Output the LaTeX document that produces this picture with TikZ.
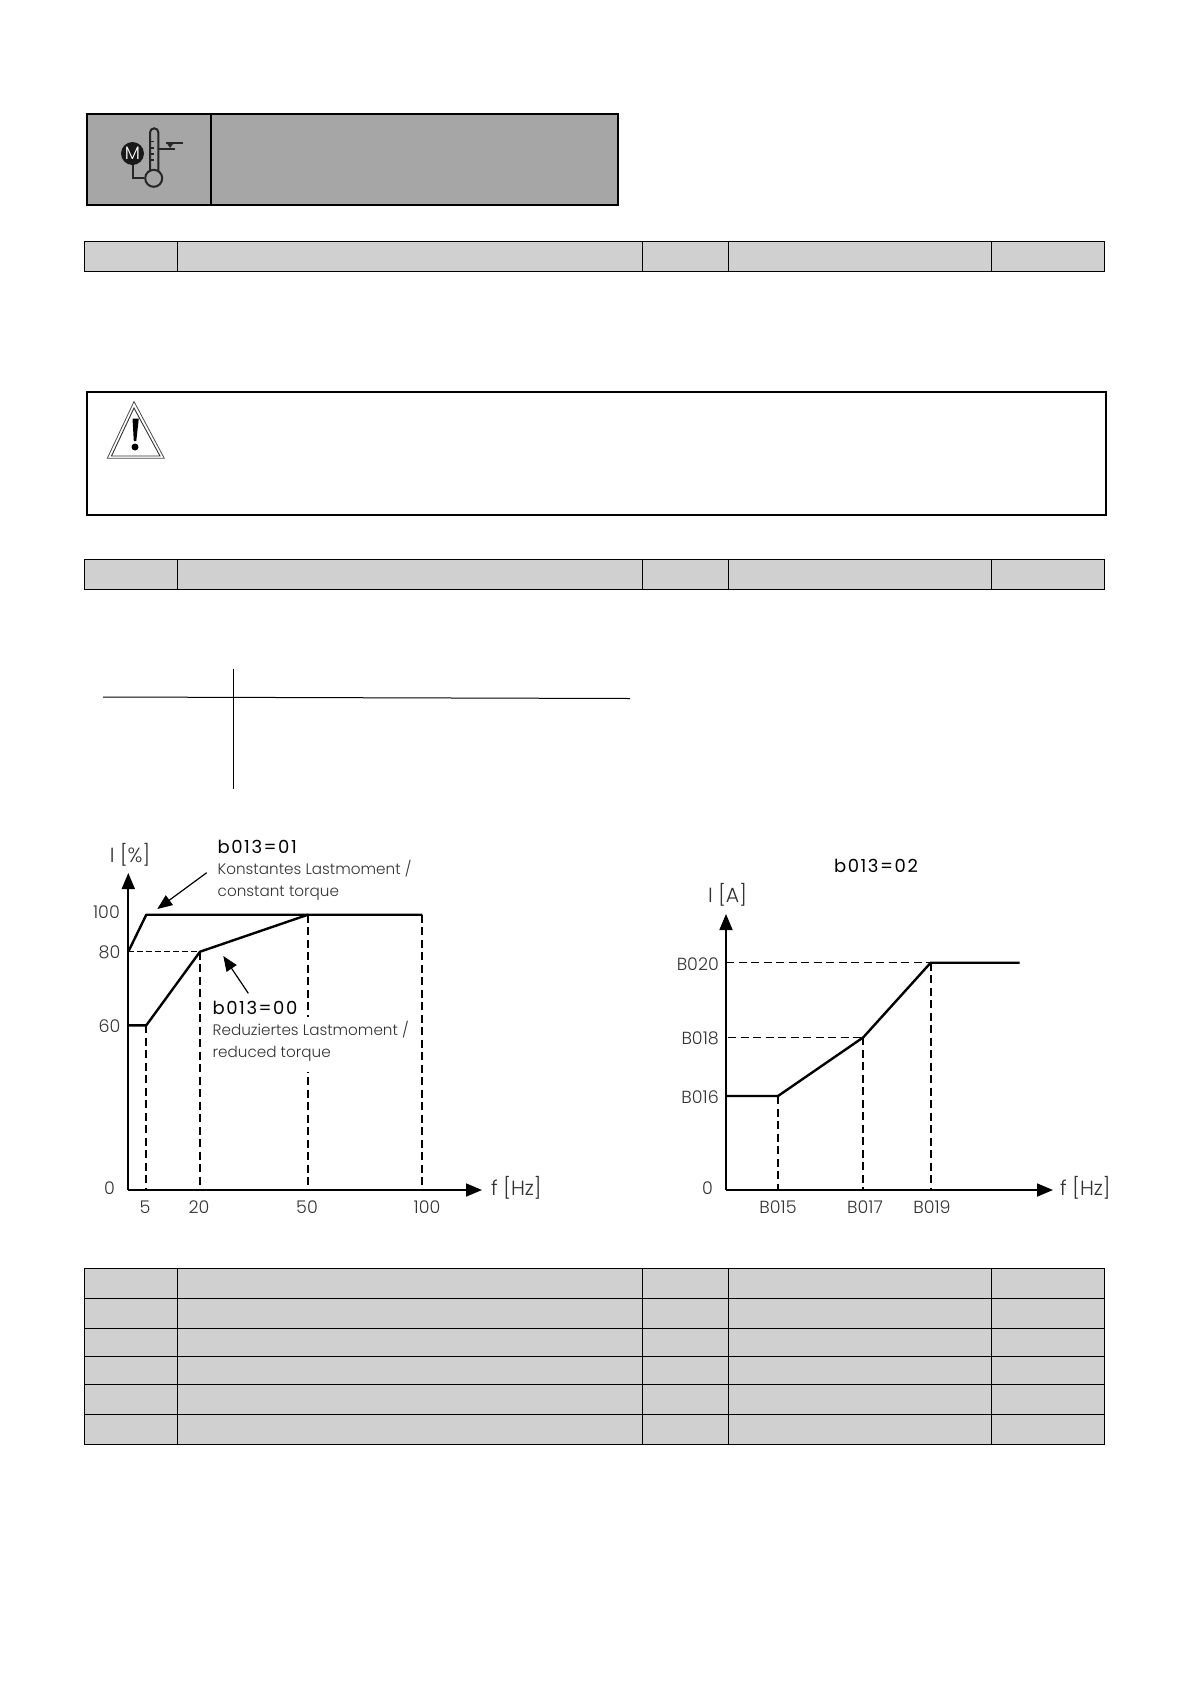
\documentclass[tikz,border=0pt]{standalone}
\usepackage{fontspec}
\setmainfont{Poppins Light}
\newfontfamily\headfont[LetterSpace=8.5]{Poppins}
\usetikzlibrary{arrows.meta}
\definecolor{headgray}{HTML}{A6A6A6}
\definecolor{rowgray}{HTML}{D0D0D0}
\definecolor{labelgray}{HTML}{333333}
\tikzset{
  axisline/.style={line width=1.7pt, -{Triangle[length=16pt,width=13pt]}},
  curveline/.style={line width=2.4pt, line join=round},
  guideline/.style={line width=1.9pt, dash pattern=on 8pt off 4.5pt},
  callout/.style={line width=1.2pt, -{Triangle[length=15pt,width=12pt]}},
  ticklabel/.style={font=\fontsize{17.5}{20}\selectfont, text=labelgray, inner sep=0pt},
  unitlabel/.style={font=\fontsize{20.5}{24}\selectfont, text=labelgray, inner sep=0pt},
  modelabel/.style={font=\headfont\fontsize{18}{20}\selectfont, inner sep=0pt, anchor=west},
  textlabel/.style={font=\fontsize{15.2}{18}\selectfont, text=labelgray, inner sep=0pt, anchor=west},
  tablecell/.style={fill=rowgray, draw=black, line width=0.9pt}
}
\begin{document}
\begin{tikzpicture}[x=1pt,y=-1pt]
\useasboundingbox (0,0) rectangle (1190,1684);

\draw[fill=headgray, line width=2pt] (87,114) rectangle (211,205);
\draw[fill=headgray, line width=2pt] (211,114) rectangle (618,205);

\node[circle, fill=black!90, text=white, inner sep=0pt, minimum size=23pt, font=\fontsize{18}{20}\selectfont] (motor) at (132.5,153.5) {M};
\node[circle, draw=black!85, line width=2pt, inner sep=0pt, minimum size=17pt] (bulb) at (153.7,178.3) {};
\coordinate (elbow) at (132.5,178.3);
\draw[line width=2pt, black!85] (motor) -- (elbow) -- (bulb);
\draw[line width=2pt, black!85] (150,171.5) -- (150,132.5) arc (180:360:4.2) -- (158.4,171.5);
\foreach \y in {141.5,148,154,160} {
    \draw[line width=1.6pt, black!85] (151,\y) -- (153.5,\y);
}
\draw[line width=1.6pt, black!85] (158,149) -- (175,149);
\draw[line width=1.6pt, black!85] (166,142.7) -- (183,142.7);
\fill[black!85] (166.5,142.7) -- (174,142.7) -- (170,148) -- cycle;

\foreach \top/\bot in {241/271, 559/589, 1268.5/1298.5, 1298.5/1328.5, 1328.5/1356.5, 1356.5/1384.5, 1384.5/1414.5, 1414.5/1444.5} {
    \foreach \lft/\rgt in {84.5/177.5, 177.5/642, 642/728, 728/991.5, 991.5/1104.5} {
        \draw[tablecell] (\lft,\top) rectangle (\rgt,\bot);
    }
}

\draw[line width=2pt] (87,392) rectangle (1106,514.5);
\draw[line width=0.8pt, black!70] (134,401.5) -- (107.3,458.3) -- (164.3,458.3) -- cycle;
\draw[line width=0.9pt, black!80] (134,408) -- (111.5,456) -- (160,456) -- cycle;
\fill (132.5,418.5) -- (138.8,418.5) -- (136.3,441) -- (133.8,441) -- cycle;
\fill (135,447) circle (3.5);

\draw[line width=1pt] (103,697) -- (630,698.5);
\draw[line width=1pt] (233,669) -- (233,789);

\coordinate (left0) at (128.3,1190);
\coordinate (leftA) at (146.3,1190);
\coordinate (leftB) at (200,1190);
\coordinate (leftC) at (308,1190);
\coordinate (leftD) at (422.3,1190);
\coordinate (lim60) at (128.3,1025.3);
\coordinate (lim80) at (128.3,951.7);
\coordinate (knee60) at (146.3,1025.3);
\coordinate (knee80) at (200,951.7);
\coordinate (knee100) at (146.3,914.7);
\coordinate (mid100) at (308,914.7);
\coordinate (end100) at (422.3,914.7);

\draw[axisline] (left0) -- (128.3,873);
\draw[axisline] (left0) -- (482,1190);
\draw[curveline] (lim80) -- (knee100) -- (mid100) -- (end100);
\draw[curveline] (lim60) -- (knee60) -- (knee80) -- (mid100);
\draw[line width=1pt, dash pattern=on 6pt off 3pt] (lim80) -- (knee80);
\draw[guideline] (knee60) -- (leftA);
\draw[guideline] (knee80) -- (leftB);
\draw[guideline] (mid100) -- (leftC);
\draw[guideline] (end100) -- (leftD);

\node[unitlabel] (ileft) at (130,855) {I [\%]};
\node[unitlabel, anchor=west] (fleft) at (491,1188) {f [Hz]};
\foreach \val/\ypos/\xpos in {100/912.5/120, 80/952/120.5, 60/1026/120.5, 0/1188/115} {
    \node[ticklabel, anchor=east] (tickl\val) at (\xpos,\ypos) {\val};
}
\foreach \val/\xpos in {5/145, 20/199, 50/307, 100/427} {
    \node[ticklabel] (tickb\val) at (\xpos,1207) {\val};
}

\node[modelabel] (modeA) at (217.5,846.5) {b013=01};
\node[textlabel] (constA) at (217.5,869) {Konstantes Lastmoment /};
\node[textlabel] (constB) at (217.5,893) {constant torque};
\node[modelabel] (modeB) at (212.5,1008) {b013=00};
\node[textlabel, fill=white, minimum height=36pt] (redB) at (212.5,1054) {reduced torque};
\node[textlabel, fill=white, minimum height=26pt] (redA) at (212.5,1030) {Reduziertes Lastmoment /};
\coordinate (constTail) at (206.7,872.7);
\coordinate (constTip) at (157.3,909);
\coordinate (redTail) at (248.3,993.3);
\coordinate (redTip) at (223.3,956);
\draw[callout] (constTail) -- (constTip);
\draw[callout] (redTail) -- (redTip);

\coordinate (right0) at (726,1190);
\coordinate (rightA) at (778,1190);
\coordinate (rightB) at (863.3,1190);
\coordinate (rightC) at (930.7,1190);
\coordinate (lim16) at (726,1096);
\coordinate (lim18) at (728,1037.3);
\coordinate (lim20) at (726,962.7);
\coordinate (kneeA) at (778,1096);
\coordinate (kneeB) at (863.3,1037.3);
\coordinate (kneeC) at (930.7,962.7);
\coordinate (endC) at (1019.5,962.7);

\draw[axisline] (right0) -- (726,914);
\draw[axisline] (right0) -- (1053,1190);
\draw[curveline] (lim16) -- (kneeA) -- (kneeB) -- (kneeC) -- (endC);
\draw[line width=1.2pt, dash pattern=on 8pt off 4.5pt] (lim20) -- (kneeC);
\draw[line width=1.2pt, dash pattern=on 8pt off 4.5pt] (lim18) -- (kneeB);
\draw[guideline] (kneeA) -- (rightA);
\draw[guideline] (kneeB) -- (rightB);
\draw[guideline] (kneeC) -- (rightC);

\node[modelabel, anchor=center] (modeC) at (876,866) {b013=02};
\node[unitlabel] (iright) at (727.5,895) {I [A]};
\node[unitlabel, anchor=west] (fright) at (1060,1188) {f [Hz]};
\foreach \val/\ypos in {B020/964, B018/1038, B016/1097} {
    \node[ticklabel, anchor=east] (tick\val) at (719,\ypos) {\val};
}
\node[ticklabel, anchor=east] (tickzero) at (713,1188) {0};
\foreach \val/\xpos in {B015/778, B017/865, B019/932} {
    \node[ticklabel] (tick\val) at (\xpos,1207) {\val};
}
\end{tikzpicture}
\end{document}
